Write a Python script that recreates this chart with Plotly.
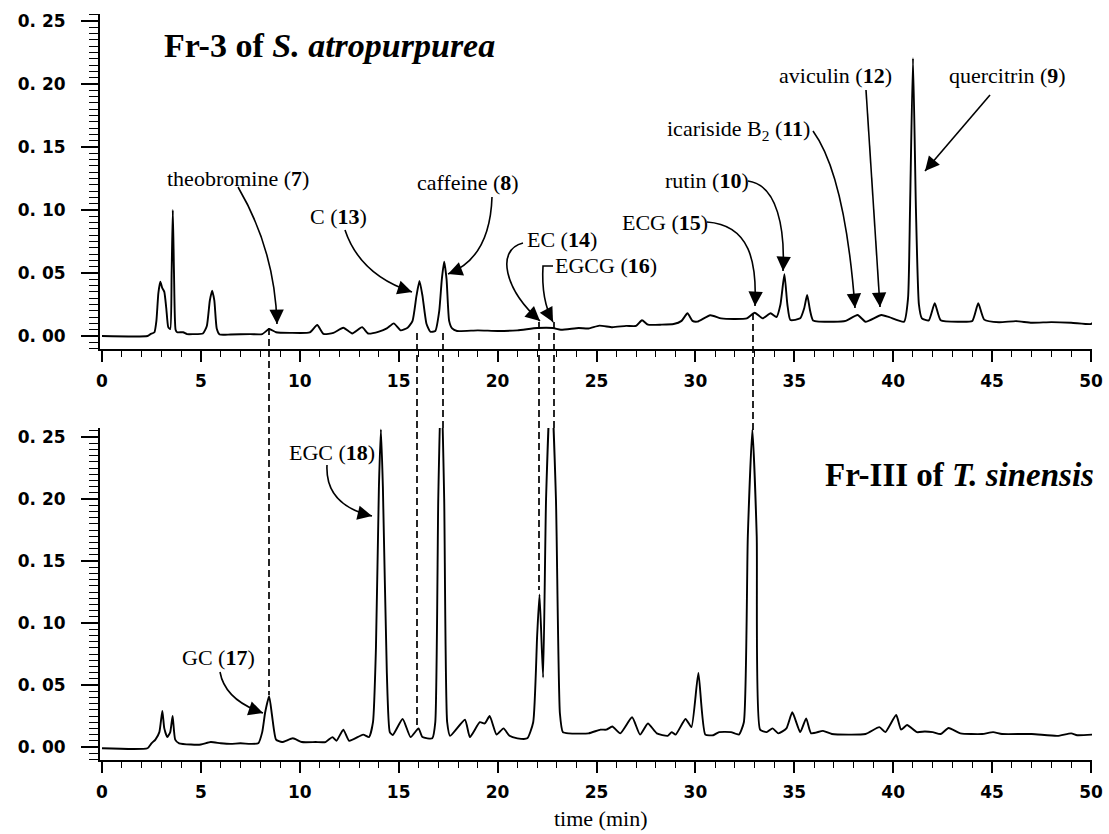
import plotly.graph_objects as go

# ---------------- data ----------------
top_time = [0.0, 2.3, 2.45, 2.65, 2.75, 2.85, 2.95, 3.05, 3.15, 3.25, 3.35, 3.45, 3.52, 3.58, 3.64, 3.72,
            3.8, 4.1, 4.3, 4.6, 5.1, 5.3, 5.45, 5.57, 5.68, 5.8, 5.95, 6.5, 7.5, 8.1, 8.45, 8.8, 9.5,
            10.5, 10.88, 11.2, 11.7, 12.2, 12.65, 13.15, 13.45, 14.0, 14.4, 14.75, 15.1, 15.45, 15.7,
            15.9, 16.05, 16.2, 16.4, 16.6, 16.85, 17.05, 17.18, 17.3, 17.42, 17.55, 17.7, 17.95, 19.0,
            20.0, 21.0, 22.0, 22.8, 23.2, 24.1, 24.6, 25.15, 25.8, 26.5, 27.0, 27.3, 27.6, 28.3, 28.9,
            29.3, 29.6, 29.85, 30.1, 30.75, 31.3, 32.0, 32.6, 33.0, 33.4, 33.8, 34.1, 34.3, 34.5, 34.65,
            34.8, 35.3, 35.5, 35.65, 35.8, 35.95, 37.0, 37.6, 38.2, 38.6, 39.4, 39.8, 40.55, 40.75, 40.85,
            41.0, 41.15, 41.3, 41.45, 41.8, 42.1, 42.4, 43.3, 44.0, 44.3, 44.6, 45.35, 46.2, 47.0, 48.0,
            49.0, 50.0, 50.1]
top_abs = [0.000, 0.000, 0.0015, 0.003, 0.012, 0.034, 0.043, 0.038, 0.035, 0.022, 0.007, 0.0055, 0.05,
           0.100, 0.05, 0.005, 0.003, 0.003, 0.0015, 0.0015, 0.002, 0.008, 0.028, 0.036, 0.028, 0.006,
           0.0012, 0.0012, 0.0015, 0.0015, 0.0055, 0.003, 0.0025, 0.0028, 0.0087, 0.0016, 0.0025, 0.0066,
           0.002, 0.007, 0.002, 0.0035, 0.006, 0.010, 0.0045, 0.0065, 0.012, 0.032, 0.0437, 0.032, 0.010,
           0.0034, 0.004, 0.02, 0.045, 0.059, 0.045, 0.012, 0.006, 0.004, 0.0045, 0.004, 0.0045, 0.0063,
           0.0063, 0.005, 0.0063, 0.006, 0.0082, 0.007, 0.008, 0.008, 0.0125, 0.009, 0.009, 0.0095, 0.012,
           0.018, 0.012, 0.0114, 0.0165, 0.014, 0.0135, 0.014, 0.0185, 0.014, 0.018, 0.015, 0.025, 0.049,
           0.025, 0.0127, 0.014, 0.022, 0.0325, 0.02, 0.0124, 0.0113, 0.012, 0.0167, 0.0113, 0.0167, 0.015,
           0.0114, 0.03, 0.1, 0.2204, 0.1, 0.025, 0.014, 0.0124, 0.026, 0.0125, 0.0113, 0.012, 0.026,
           0.013, 0.0109, 0.0118, 0.0105, 0.011, 0.0105, 0.0095, 0.0105]

bot_time = [0.0, 2.3, 2.5, 2.7, 2.9, 3.05, 3.15, 3.3, 3.45, 3.57, 3.7, 3.9, 4.5, 5.0, 5.5, 6.0, 6.5, 7.0,
            7.5, 7.9, 8.1, 8.25, 8.45, 8.6, 8.8, 9.1, 9.65, 10.1, 10.8, 11.3, 11.65, 11.85, 12.2, 12.5,
            13.2, 13.5, 13.7, 13.85, 14.0, 14.1, 14.2, 14.4, 14.55, 14.7, 15.2, 15.6, 16.0, 16.2, 16.7,
            16.85, 17.0, 17.15, 17.3, 17.45, 17.6, 18.35, 18.6, 19.1, 19.35, 19.6, 19.95, 20.3, 20.6,
            21.0, 21.5, 21.8, 22.0, 22.12, 22.3, 22.45, 22.7, 22.95, 23.15, 23.3, 23.6, 24.6, 25.2, 25.5,
            25.8, 26.2, 26.8, 27.2, 27.6, 28.05, 28.6, 28.8, 29.0, 29.5, 29.8, 30.15, 30.5, 30.9, 31.2,
            31.8, 32.2, 32.45, 32.65, 32.88, 33.1, 33.27, 33.6, 33.9, 34.2, 34.6, 34.9, 35.3, 35.6, 35.85,
            36.45, 36.9, 38.6, 39.3, 39.6, 40.15, 40.4, 40.7, 41.2, 41.6, 42.0, 42.4, 42.8, 43.4, 44.5,
            45.05, 45.5, 47.0, 48.3, 49.0, 49.3, 50.1]
bot_abs = [-0.001, -0.001, 0.003, 0.006, 0.012, 0.029, 0.015, 0.008, 0.012, 0.025, 0.006, 0.003, 0.002,
           0.002, 0.004, 0.003, 0.0025, 0.003, 0.0025, 0.003, 0.012, 0.028, 0.041, 0.025, 0.006, 0.004,
           0.007, 0.004, 0.004, 0.004, 0.008, 0.005, 0.014, 0.005, 0.010, 0.008, 0.02, 0.08, 0.21, 0.256,
           0.21, 0.06, 0.012, 0.0097, 0.0226, 0.008, 0.015, 0.008, 0.007, 0.02, 0.2, 0.3, 0.2, 0.02, 0.009,
           0.022, 0.008, 0.020, 0.019, 0.025, 0.010, 0.015, 0.009, 0.007, 0.007, 0.02, 0.09, 0.123, 0.056,
           0.2, 0.3, 0.2, 0.027, 0.012, 0.011, 0.011, 0.014, 0.014, 0.0165, 0.011, 0.024, 0.010, 0.019,
           0.011, 0.009, 0.012, 0.010, 0.0226, 0.016, 0.0597, 0.010, 0.0095, 0.012, 0.012, 0.010, 0.02,
           0.17, 0.256, 0.17, 0.014, 0.012, 0.015, 0.011, 0.015, 0.028, 0.012, 0.023, 0.011, 0.013,
           0.0105, 0.0105, 0.016, 0.012, 0.0258, 0.014, 0.0177, 0.012, 0.0125, 0.012, 0.0105, 0.0153,
           0.011, 0.0105, 0.012, 0.0105, 0.0105, 0.009, 0.011, 0.0095, 0.010]

x_tick_vals = [0, 5, 10, 15, 20, 25, 30, 35, 40, 45, 50]
x_tick_text = ["0", "5", "10", "15", "20", "25", "30", "35", "40", "45", "50"]
y_tick_vals = [0.00, 0.05, 0.10, 0.15, 0.20, 0.25]
y_tick_text = ["0. 00", "0. 05", "0. 10", "0. 15", "0. 20", "0. 25"]

# ---------------- geometry helpers (pixel -> data) ----------------
X0, XS = 102.0, 19.78
Y0T, YST = 336.0, 1260.0
Y0B, YSB = 747.0, 1240.0
PLOT_LEFT, PLOT_W = 100.0, 992.0
PLOT_BOTTOM, PLOT_H = 760.0, 746.0


def tx(px):
    return (px - X0) / XS


def ty_top(py):
    return (Y0T - py) / YST


def ty_bot(py):
    return (Y0B - py) / YSB


def ypaper(py):
    return (PLOT_BOTTOM - py) / PLOT_H


def xpaper(px):
    return (px - PLOT_LEFT) / PLOT_W


fig = go.Figure()
fig.add_trace(go.Scatter(x=top_time, y=top_abs, mode="lines",
                         line=dict(color="black", width=1.9, shape="spline", smoothing=0.5),
                         xaxis="x", yaxis="y", showlegend=False, hoverinfo="skip"))
fig.add_trace(go.Scatter(x=bot_time, y=bot_abs, mode="lines",
                         line=dict(color="black", width=1.9, shape="spline", smoothing=0.5),
                         xaxis="x2", yaxis="y2", showlegend=False, hoverinfo="skip"))

xr = [tx(100), tx(1092)]
axis_common = dict(showline=True, linecolor="black", linewidth=2, showgrid=False, zeroline=False,
                   ticks="outside", tickcolor="black", tickwidth=1.6, automargin=False)
tickfont = dict(family="DejaVu Sans", size=17, color="black", weight="bold")

xa = dict(axis_common, range=xr, tickmode="array", tickvals=x_tick_vals, ticktext=x_tick_text,
          ticklen=11, tickfont=tickfont, ticklabelstandoff=5,
          minor=dict(dtick=1, tick0=0, ticks="outside", ticklen=6, tickcolor="black", tickwidth=1.4))
ya = dict(axis_common, tickmode="array", tickvals=y_tick_vals, ticktext=y_tick_text,
          ticklen=17, tickfont=tickfont, ticklabelstandoff=12,
          minor=dict(dtick=0.005, tick0=0, ticks="outside", ticklen=9, tickcolor="black", tickwidth=1.4))

fig.update_layout(
    width=1109, height=834,
    margin=dict(l=100, r=17, t=14, b=74, autoexpand=False),
    paper_bgcolor="white", plot_bgcolor="white",
    xaxis=dict(xa, domain=[0, 1], anchor="y"),
    yaxis=dict(ya, domain=[ypaper(349), 1], range=[ty_top(349), ty_top(14)], anchor="x"),
    xaxis2=dict(xa, domain=[0, 1], anchor="y2"),
    yaxis2=dict(ya, domain=[0, ypaper(428)], range=[ty_bot(760), ty_bot(428)], anchor="x2"),
)

SERIF = "Liberation Serif"
annotations = []
shapes = []


def label(text, px, py, panel, size=22, xanchor="left"):
    conv = ty_top if panel == "top" else ty_bot
    annotations.append(dict(x=tx(px), y=conv(py), xref="x" if panel == "top" else "x2",
                            yref="y" if panel == "top" else "y2", text=text, showarrow=False,
                            xanchor=xanchor, yanchor="middle",
                            font=dict(family=SERIF, size=size, color="black")))


def curve(points, cmds, panel):
    conv = ty_top if panel == "top" else ty_bot
    xref = "x" if panel == "top" else "x2"
    yref = "y" if panel == "top" else "y2"
    coords = ["%.4f,%.5f" % (tx(p[0]), conv(p[1])) for p in points]
    shapes.append(dict(type="path", path=cmds.format(*coords), xref=xref, yref=yref,
                       line=dict(color="black", width=1.6)))
    (cx, cy), (ex, ey) = points[-2], points[-1]
    dx, dy = ex - cx, ey - cy
    n = (dx * dx + dy * dy) ** 0.5
    bx, by = ex - 10 * dx / n, ey - 10 * dy / n
    annotations.append(dict(x=tx(ex), y=conv(ey), ax=tx(bx), ay=conv(by), xref=xref, yref=yref,
                            axref=xref, ayref=yref, text="", showarrow=True, arrowhead=2,
                            arrowsize=1.8, arrowwidth=1.6, arrowcolor="black", standoff=0,
                            startstandoff=0))


# titles
label("<b>Fr-3 of <i>S. atropurpurea</i></b>", 162, 45, "top", size=34)
label("<b>Fr-III of <i>T. sinensis</i></b>", 823, 475, "bot", size=33)

# top labels
label("theobromine (<b>7</b>)", 165, 178, "top")
label("C (<b>13</b>)", 308, 216, "top")
label("caffeine (<b>8</b>)", 415, 182, "top")
label("EC (<b>14</b>)", 525, 239, "top")
label("EGCG (<b>16</b>)", 553, 265, "top")
label("ECG (<b>15</b>)", 620, 222, "top")
label("rutin (<b>10</b>)", 663, 180, "top")
label("icariside B<sub>2</sub> (<b>11</b>)", 665, 130, "top")
label("aviculin (<b>12</b>)", 777, 75, "top")
label("quercitrin (<b>9</b>)", 947, 75, "top")
# bottom labels
label("EGC (<b>18</b>)", 287, 453, "bot")
label("GC (<b>17</b>)", 180, 657, "bot")

# arrows
curve([(238, 187), (275, 250), (277, 324)], "M {} Q {} {}", "top")
curve([(345, 230), (360, 275), (412, 292)], "M {} Q {} {}", "top")
curve([(492, 197), (490, 258), (448, 274)], "M {} Q {} {}", "top")
curve([(523, 243), (495, 250), (505, 290), (540, 321)], "M {} C {} {} {}", "top")
curve([(553, 266), (543, 266), (541, 300), (553, 322)], "M {} L {} Q {} {}", "top")
curve([(707, 222), (750, 225), (757, 262), (755, 306)], "M {} C {} {} {}", "top")
curve([(748, 181), (778, 185), (785, 230), (783, 271)], "M {} C {} {} {}", "top")
curve([(813, 131), (845, 175), (855, 308)], "M {} Q {} {}", "top")
curve([(866, 90), (880, 307)], "M {} L {}", "top")
curve([(990, 95), (925, 171)], "M {} L {}", "top")
curve([(327, 465), (325, 505), (372, 516)], "M {} Q {} {}", "bot")
curve([(220, 672), (225, 700), (263, 713)], "M {} Q {} {}", "bot")

# dashed connectors between the two chromatograms
for px, py0, py1 in [(269, 328, 695), (417, 333, 728), (443, 333, 430), (539, 322, 590),
                     (554, 322, 430), (753, 313, 430)]:
    shapes.append(dict(type="line", xref="paper", yref="paper", x0=xpaper(px), x1=xpaper(px),
                       y0=ypaper(py0), y1=ypaper(py1),
                       line=dict(color="black", width=1.7, dash="7px,4px")))

annotations.append(dict(x=xpaper(600), y=ypaper(818), xref="paper", yref="paper", text="time (min)",
                        showarrow=False, xanchor="center", yanchor="middle",
                        font=dict(family=SERIF, size=22, color="black")))

fig.update_layout(annotations=annotations, shapes=shapes)
fig.write_html("out.html", config={"displayModeBar": False},
               post_script="document.body.style.margin='0';document.body.style.overflow='hidden';")
